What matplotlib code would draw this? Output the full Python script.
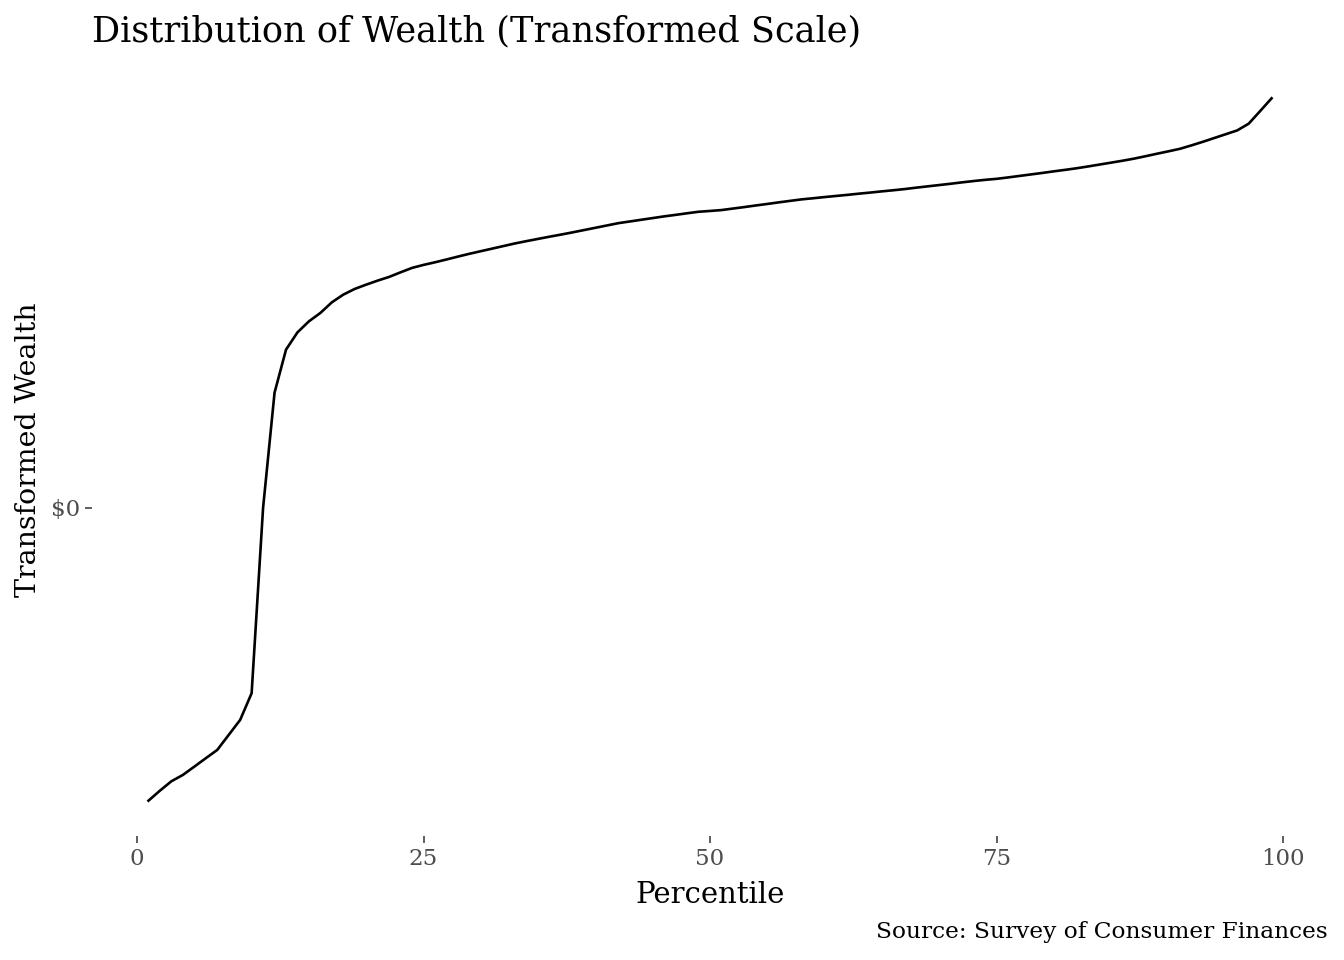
import matplotlib.pyplot as plt

# wealth percentile curve on a transformed (signed) scale

percentile = list(range(1, 100))
wealth_t = [
    -292.7, -282.7, -273.3, -267.0, -258.7, -250.3, -242.0, -227.0, -212.0, -185.3,
    0.0, 115.0, 158.0, 175.3, 186.3, 194.7, 205.3, 213.0, 218.7, 223.0,
    227.0, 230.7, 235.3, 239.7, 242.7, 245.3, 248.1, 251.0, 253.8, 256.4,
    259.0, 261.6, 264.2, 266.5, 268.7, 270.9, 273.0, 275.2, 277.5, 279.8,
    282.1, 284.4, 286.1, 287.8, 289.5, 291.2, 292.7, 294.3, 295.8, 296.6,
    297.5, 299.0, 300.5, 302.1, 303.6, 305.2, 306.7, 308.2, 309.3, 310.5,
    311.6, 312.7, 313.9, 315.0, 316.2, 317.3, 318.5, 319.9, 321.2, 322.5,
    323.8, 325.2, 326.5, 327.7, 328.7, 330.1, 331.6, 333.1, 334.6, 336.2,
    337.7, 339.3, 341.1, 343.0, 344.9, 346.8, 348.9, 351.3, 353.8, 356.2,
    358.7, 362.1, 365.7, 369.5, 373.3, 377.1, 383.8, 396.4, 409.2,
]
x_ticks = [0, 25, 50, 75, 100]
y_ticks = [0]
y_tick_labels = ["\\$0"]

plt.rcParams['font.family'] = ['DejaVu Serif']

fig = plt.figure(figsize=(13.44, 9.6), dpi=100)
ax = fig.add_axes([0.0687, 0.1294, 0.9192, 0.8048])

ax.plot(percentile, wealth_t, color='black', lw=1.9)

# ggplot-like 5% expansion
xr = max(percentile) - min(percentile)
ax.set_xlim(min(percentile) - 0.05 * xr, max(percentile) + 0.05 * xr)
yr = max(wealth_t) - min(wealth_t)
ax.set_ylim(min(wealth_t) - 0.05 * yr, max(wealth_t) + 0.05 * yr)

ax.set_xticks(x_ticks)
ax.set_yticks(y_ticks)
ax.set_yticklabels(y_tick_labels)
ax.tick_params(axis='both', colors='#333333', labelcolor='#4D4D4D',
               labelsize=16.5, length=5, width=1.1, pad=4)

for s in ax.spines.values():
    s.set_visible(False)

ax.set_xlabel("Percentile", fontsize=21, labelpad=7.5)
ax.set_ylabel("Transformed Wealth", fontsize=20.5, labelpad=6)
ax.set_title("Distribution of Wealth (Transformed Scale)", fontsize=25.3,
             loc='left', pad=15.5)
fig.text(0.9879, 0.018, "Source: Survey of Consumer Finances",
         ha='right', va='bottom', fontsize=16.75)

fig.savefig("out.png", dpi=100)
